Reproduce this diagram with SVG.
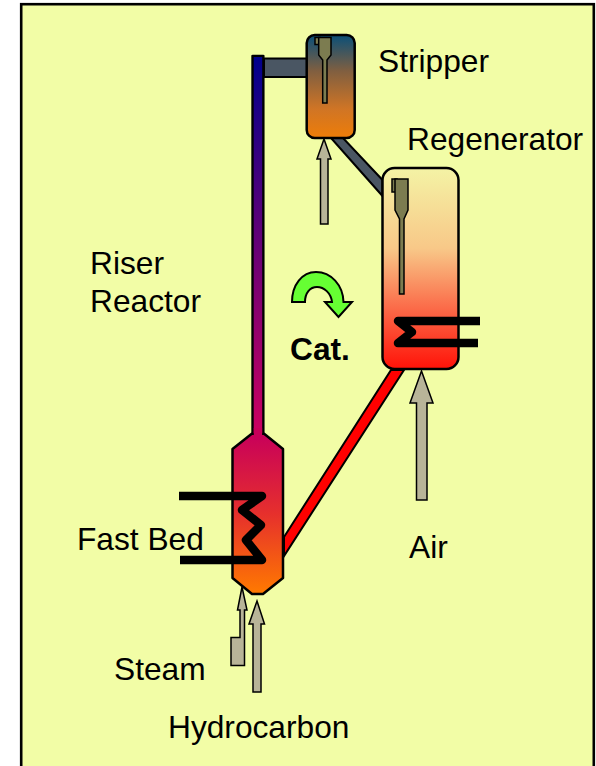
<svg xmlns="http://www.w3.org/2000/svg" width="596" height="766" viewBox="0 0 596 766">
<style>
.t{font-family:"Liberation Sans",Arial,sans-serif;font-size:31.7px;fill:#000}
.s{stroke:#000;stroke-width:2.5;stroke-linejoin:round}
.pipe{fill:#4a5663;stroke:#000;stroke-width:2}
.coil{fill:none;stroke:#000;stroke-width:8.500;stroke-linejoin:round;stroke-linecap:butt}
.arrow{fill:#b8b498;stroke:#000;stroke-width:1.500;stroke-linejoin:miter}
.dip{fill:#7c7c50;stroke:#000;stroke-width:1.500}
</style>
<defs>
<linearGradient id="gStrip" x1="0" y1="0" x2="0" y2="1"><stop offset="0" stop-color="#0a4f78"/><stop offset="0.35" stop-color="#805f40"/><stop offset="0.72" stop-color="#d07525"/><stop offset="1" stop-color="#ee7d08"/></linearGradient>
<linearGradient id="gRegen" x1="0" y1="0" x2="0" y2="1"><stop offset="0" stop-color="#f4f3a5"/><stop offset="0.4" stop-color="#f8c888"/><stop offset="0.7" stop-color="#fb6a48"/><stop offset="1" stop-color="#ff1208"/></linearGradient>
<linearGradient id="gRiser" x1="0" y1="0" x2="0" y2="1"><stop offset="0" stop-color="#00008c"/><stop offset="1" stop-color="#cc0060"/></linearGradient>
<linearGradient id="gBed" gradientUnits="userSpaceOnUse" x1="0" y1="434" x2="0" y2="594"><stop offset="0" stop-color="#c8005a"/><stop offset="0.5" stop-color="#e6302c"/><stop offset="1" stop-color="#ff7a00"/></linearGradient>
</defs>
<rect id="frame" x="21.200" y="4.200" width="572.600" height="800" fill="#f2fda6" stroke="#000" stroke-width="2.600"/>
<g id="connectors">
<path class="pipe" d="M264 58.500H307V77H264Z"/>
<path class="pipe" d="M331 138L343 138L382.500 180L382.500 196Z"/>
<path d="M391 370L404 370L284 556L284 537Z" fill="#ff0000" stroke="#000" stroke-width="2"/>
</g>
<g id="riser">
<path class="s" d="M252.700 56H263.200V433L283 449V578L263 594H252L232.500 578V449L252.700 433Z" fill="url(#gBed)"/>
<rect x="252.700" y="56" width="10.500" height="378" fill="url(#gRiser)" stroke="#000" stroke-width="2"/>
<rect x="253.800" y="428" width="8.300" height="12" fill="#c8005a"/>
<path class="coil" d="M179 496H262L242 510L261 525L246 540L262 560H180"/>
</g>
<g id="stripper">
<rect class="s" x="306.700" y="35" width="48" height="103" rx="8" fill="url(#gStrip)"/>
<rect class="dip" x="315" y="37.500" width="5" height="7"/>
<path class="dip" d="M318.700 37.500H331V55L327 60V103H322.700V60L318.700 55Z"/>
</g>
<g id="regenerator">
<rect class="s" x="382.500" y="168" width="76" height="201" rx="12" fill="url(#gRegen)"/>
<rect class="dip" x="392" y="179" width="5" height="13"/>
<path class="dip" d="M395 179H408V210L404 219V294H399.500V219L395 210Z"/>
<path class="coil" d="M480 321H398L412 332L398 343H478" stroke-linecap="butt"/>
</g>
<g id="arrows">
<path class="arrow" d="M324 139L331 159H328V224H320.500V159H317Z"/>
<path class="arrow" d="M421.500 371L433 403H427V500H416.500V403H410Z"/>
<path class="arrow" d="M257 601L264.500 624H261V692H253V624H249Z"/>
<path class="arrow" d="M242 587L247 610H244.500V665.500H231V637.500H240V610H237.500Z"/>
</g>
<g id="cycle">
<path d="M292 302C292 285 302 272 316 272C331 272 343 285 343.500 302L352 302L338.500 317L325 302L332 302C331 293 324 287 317 287C310 287 305 293 305 302Z" fill="#66ff33" stroke="#000" stroke-width="2"/>
</g>
<g id="labels">
<text class="t" x="378" y="72">Stripper</text>
<text class="t" x="407" y="150">Regenerator</text>
<text class="t" x="90" y="274">Riser</text>
<text class="t" x="90" y="312">Reactor</text>
<text class="t" x="290" y="360" style="font-weight:bold">Cat.</text>
<text class="t" x="77" y="550">Fast Bed</text>
<text class="t" x="409" y="558">Air</text>
<text class="t" x="114" y="680">Steam</text>
<text class="t" x="168" y="738">Hydrocarbon</text>
</g>
</svg>
